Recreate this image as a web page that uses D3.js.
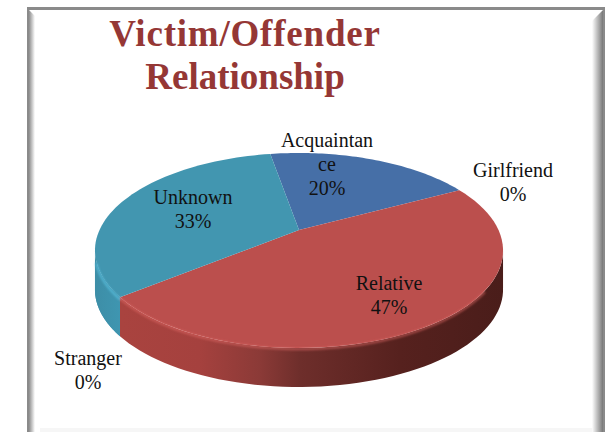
<!DOCTYPE html>
<html>
<head>
<meta charset="utf-8">
<script src="https://cdn.jsdelivr.net/npm/d3@7"></script>
<style>
html, body { margin:0; padding:0; background:#fff; overflow:hidden; }
svg { display:block; }
</style>
</head>
<body>
<div id="chart"></div>
<script>
const width = 607
const height = 432

const categories = ["Acquaintance", "Girlfriend", "Relative", "Stranger", "Unknown"]
const percents = [20, 0, 47, 0, 33]
const titleLines = ["Victim/Offender", "Relationship"]

const topColors = ["#466fa7", "#4a7ab0", "#bb4f4d", "#a8403e", "#4296b0"]
const fontName = "'Liberation Serif', serif"

let svg = d3.select("#chart").append("svg")
    .attr("width", width)
    .attr("height", height)

let defs = svg.append("defs")

function hGradient(id, stops) {
    let g = defs.append("linearGradient").attr("id", id)
        .attr("gradientUnits", "userSpaceOnUse")
        .attr("x1", stops[0][0]).attr("x2", stops[stops.length - 1][0])
        .attr("y1", 0).attr("y2", 0)
    let x0 = stops[0][0], x1 = stops[stops.length - 1][0]
    stops.forEach(s => g.append("stop").attr("offset", (s[0] - x0) / (x1 - x0)).attr("stop-color", s[1]))
}
hGradient("sideRed", [[122, "#a9433f"], [200, "#a5413e"], [260, "#8b3a37"], [300, "#6e2e2b"], [400, "#56211e"], [503, "#4a1d1a"]])
hGradient("sideTeal", [[95, "#3d8ea7"], [124, "#3f97b2"]])
hGradient("frameLeft", [[29, "#8c8c8c"], [35, "#ffffff"]])
hGradient("frameRight", [[592, "#ffffff"], [603, "#777777"]])
defs.append("filter").attr("id", "soft").append("feGaussianBlur").attr("stdDeviation", 1.2)

// frame
svg.append("rect").attr("x", 27).attr("y", 7).attr("width", 578).attr("height", 425).attr("fill", "#8a8a8a")
svg.append("rect").attr("x", 29).attr("y", 10).attr("width", 574).attr("height", 422).attr("fill", "#fff")
svg.append("polygon").attr("points", "29,10 35,16 35,432 29,432").attr("fill", "url(#frameLeft)")
svg.append("polygon").attr("points", "592,21 603,10 603,432 592,432").attr("fill", "url(#frameRight)")
svg.append("rect").attr("x", 40).attr("y", 428).attr("width", 552).attr("height", 4).attr("fill", "#f6f6f6")

// title
const titleSpacing = [0.8, 0]
svg.append("g").selectAll("text")
    .data(titleLines)
    .join("text")
    .attr("x", 245)
    .attr("y", (d, i) => 46 + i * 43)
    .attr("text-anchor", "middle")
    .attr("fill", "#953735")
    .attr("font-family", fontName)
    .attr("font-weight", "bold")
    .attr("font-size", "37px")
    .attr("letter-spacing", (d, i) => titleSpacing[i])
    .text(d => d)

// pie angles, first slice starts a little left of straight up
const startDeg = -10
let pie = d3.pie().sort(null).startAngle(startDeg * Math.PI / 180).endAngle((360 + startDeg) * Math.PI / 180)
let slices = pie(percents)

// tilted disc: unit circle pushed through a perspective so the apex sits above the rim's centre
const cx = 299, apexY = 230, radius = 199.5, yNear = 44.9, tilt = -0.21, depth = 39

function project(angle) {
    let x = Math.sin(angle), y = -Math.cos(angle)
    let w = 1 + tilt * y
    return [cx + radius * x / w, (apexY + yNear * y) / w]
}
function rimPoints(a0, a1) {
    return d3.range(0, 61).map(i => project(a0 + (a1 - a0) * i / 60))
}
let line = d3.line()

// side wall, only the front facing part of the rim
const frontStart = Math.PI * 0.5 + 0.2, frontEnd = Math.PI * 1.5 - 0.2
let side = svg.append("g")
slices.filter(d => d.endAngle > d.startAngle).forEach(d => {
    let a0 = Math.max(d.startAngle, frontStart), a1 = Math.min(d.endAngle, frontEnd)
    if (a1 <= a0) return
    let top = rimPoints(a0, a1)
    let bottom = top.map(p => [p[0], p[1] + depth]).reverse()
    side.append("path")
        .attr("d", line(top.concat(bottom)) + "Z")
        .attr("fill", percents[d.index] > 40 ? "url(#sideRed)" : "url(#sideTeal)")
})
// teal wall runs on past the red one, back round to the widest point
{
    let d = slices[4]
    let top = rimPoints(d.startAngle, d.startAngle + 0.42)
    let bottom = top.map(p => [p[0], p[1] + depth]).reverse()
    side.append("path").attr("d", line(top.concat(bottom)) + "Z").attr("fill", "url(#sideTeal)")
}

// top faces
svg.append("g").selectAll("path")
    .data(slices.filter(d => d.endAngle > d.startAngle))
    .join("path")
    .attr("d", d => line([[cx, apexY]].concat(rimPoints(d.startAngle, d.endAngle))) + "Z")
    .attr("fill", d => topColors[d.index])

// bevel highlight on the front edge
let bevel = svg.append("g").attr("filter", "url(#soft)").attr("fill", "none")
bevel.append("path")
    .attr("d", line(rimPoints(slices[2].startAngle + 1.1, slices[2].endAngle).map(p => [p[0], p[1] + 1])))
    .attr("stroke", "#e26a66").attr("stroke-width", 2.5).attr("stroke-opacity", 0.55)
bevel.append("path")
    .attr("d", line(rimPoints(slices[4].startAngle, slices[4].startAngle + 0.36).map(p => [p[0], p[1] + 2])))
    .attr("stroke", "#56b8d6").attr("stroke-width", 2)

// data labels
const labelLines = [["Acquaintan", "ce", "20%"], ["Girlfriend", "0%"], ["Relative", "47%"], ["Stranger", "0%"], ["Unknown", "33%"]]
const labelPos = [[327, 147], [513, 177], [389, 290], [88, 365], [193, 204]]

let labels = svg.append("g").selectAll("text")
    .data(categories)
    .join("text")
    .attr("text-anchor", "middle")
    .attr("fill", "#111")
    .attr("font-family", fontName)
    .attr("font-size", "20px")
labels.each(function(d, i) {
    d3.select(this).selectAll("tspan")
        .data(labelLines[i])
        .join("tspan")
        .attr("x", labelPos[i][0])
        .attr("y", (t, j) => labelPos[i][1] + j * 24)
        .text(t => t)
})
</script>
</body>
</html>
